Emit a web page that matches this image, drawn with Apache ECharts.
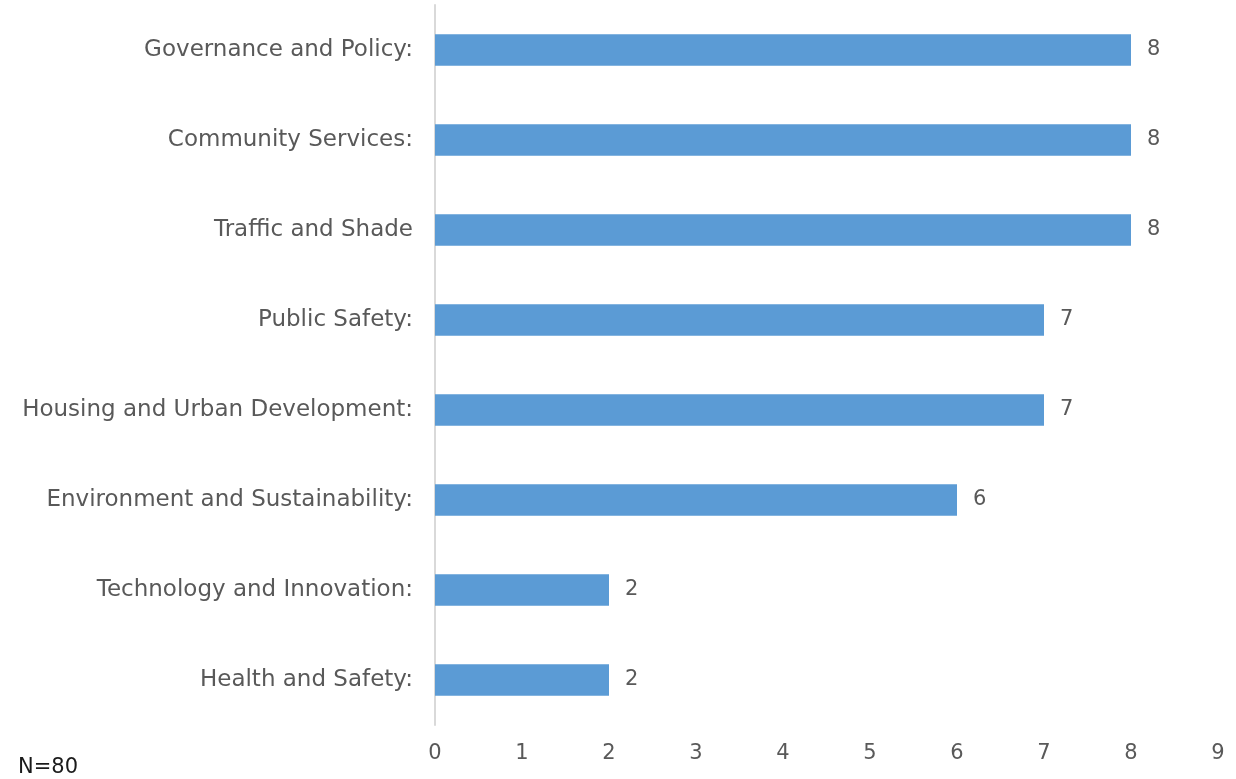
<!DOCTYPE html>
<html>
<head>
<meta charset="utf-8">
<script src="https://cdn.jsdelivr.net/npm/echarts@6/dist/echarts.min.js"></script>
<style>
  html, body { margin: 0; padding: 0; background: #fff; }
  #chart { width: 1236px; height: 779px; }
</style>
</head>
<body>
<div id="chart"></div>
<script>
// Categories listed bottom-to-top (ECharts category y-axis starts at the bottom)
const categories = [
  'Health and Safety:',
  'Technology and Innovation:',
  'Environment and Sustainability:',
  'Housing and Urban Development:',
  'Public Safety:',
  'Traffic and Shade',
  'Community Services:',
  'Governance and Policy:'
];
const counts = [2, 2, 6, 7, 7, 8, 8, 8];
const sampleNote = 'N=80';

const FONT = '"DejaVu Sans", sans-serif';
const chart = echarts.init(document.getElementById('chart'));

chart.setOption({
  animation: false,
  grid: { left: 435, right: 18, top: 5, bottom: 54, containLabel: false },
  xAxis: {
    type: 'value',
    min: 0,
    max: 9,
    interval: 1,
    axisLine: { show: false },
    axisTick: { show: false },
    splitLine: { show: false },
    axisLabel: { color: '#595959', fontSize: 21, fontFamily: FONT, margin: 18 }
  },
  yAxis: {
    type: 'category',
    data: categories,
    axisLine: { show: true, lineStyle: { color: '#d9d9d9', width: 2 } },
    axisTick: { show: false },
    axisLabel: { color: '#595959', fontSize: 23, fontFamily: FONT, margin: 22 }
  },
  series: [{
    type: 'bar',
    data: counts,
    barWidth: '35%',
    itemStyle: { color: '#5B9BD5' },
    label: {
      show: true,
      position: 'right',
      distance: 16,
      color: '#595959',
      fontSize: 21,
      fontFamily: FONT
    }
  }],
  graphic: [{
    type: 'text',
    left: 18,
    top: 757,
    style: { text: sampleNote, fill: '#1a1a1a', fontSize: 21, fontFamily: FONT }
  }]
});
</script>
</body>
</html>
